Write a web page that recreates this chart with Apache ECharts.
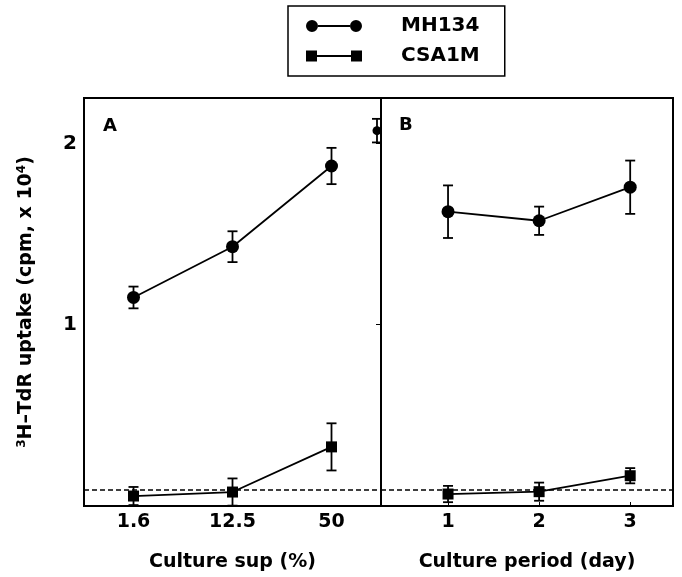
<!DOCTYPE html>
<html>
<head>
<meta charset="utf-8">
<script src="https://cdn.jsdelivr.net/npm/echarts@6/dist/echarts.min.js"></script>
<style>html,body{margin:0;padding:0;background:#fff;}#c{width:682px;height:577px;}</style>
</head>
<body>
<div id="c"></div>
<script>
const seriesNames = ['MH134', 'CSA1M'];
const supCategories = ['1.6', '12.5', '50'];
const mhSup = [1.15, 1.43, 1.875];
const mhSupErr = [0.06, 0.085, 0.1];
const csaSup = [0.055, 0.077, 0.326];
const csaSupErr = [0.05, 0.075, 0.13];
const periodDays = [1, 2, 3];
const mhPeriod = [1.623, 1.573, 1.758];
const mhPeriodErr = [0.145, 0.078, 0.147];
const csaPeriod = [0.066, 0.079, 0.167];
const csaPeriodErr = [0.045, 0.05, 0.042];
const strayPoint = [[0.22, 2.07, 0.065]];
const backgroundLevel = 0.09;
const yTicks = [1, 2];
const yTitle = '{sup|3}H\u2013TdR uptake (cpm, x 10{sup|4})';
const xTitles = ['Culture sup (%)', 'Culture period (day)'];
const panelLabels = ['A', 'B'];

const FONT = 'DejaVu Sans';
const chart = echarts.init(document.getElementById('c'));

function errRender(params, api) {
  const x = api.value(0), y = api.value(1), e = api.value(2);
  const top = api.coord([x, y + e]);
  const bot = api.coord([x, y - e]);
  const hw = 5;
  const st = {stroke: '#000', lineWidth: 1.8};
  return {type: 'group', children: [
    {type: 'line', shape: {x1: top[0], y1: top[1], x2: bot[0], y2: bot[1]}, style: st},
    {type: 'line', shape: {x1: top[0] - hw, y1: top[1], x2: top[0] + hw, y2: top[1]}, style: st},
    {type: 'line', shape: {x1: bot[0] - hw, y1: bot[1], x2: bot[0] + hw, y2: bot[1]}, style: st}
  ]};
}

const circleIcon = 'path://M0,6A6,6,0,1,1,12,6A6,6,0,1,1,0,6Z M12,5.1L44,5.1L44,6.9L12,6.9Z M44,6A6,6,0,1,1,56,6A6,6,0,1,1,44,6Z';
const squareIcon = 'path://M0,0.5L11,0.5L11,11.5L0,11.5Z M11,5.1L45,5.1L45,6.9L11,6.9Z M45,0.5L56,0.5L56,11.5L45,11.5Z';

const tickLabelStyle = {color: '#000', fontFamily: FONT, fontWeight: 'bold', fontSize: 19};
const nameStyle = {color: '#000', fontFamily: FONT, fontWeight: 'bold', fontSize: 19};

const option = {
  animation: false,
  backgroundColor: '#fff',
  title: [
    {text: panelLabels[0], left: 98, top: 112, textStyle: {fontFamily: FONT, fontWeight: 'bold', fontSize: 18, color: '#000'}},
    {text: panelLabels[1], left: 394, top: 111, textStyle: {fontFamily: FONT, fontWeight: 'bold', fontSize: 18, color: '#000'}}
  ],
  legend: {
    orient: 'vertical', left: 288, top: 6,
    padding: [10, 25, 10, 18], itemGap: 10,
    borderColor: '#000', borderWidth: 1.5,
    itemWidth: 56, itemHeight: 12,
    textStyle: {color: '#000', fontFamily: FONT, fontWeight: 'bold', fontSize: 20, padding: [0, 0, 0, 34]},
    data: [
      {name: seriesNames[0], icon: circleIcon},
      {name: seriesNames[1], icon: squareIcon}
    ]
  },
  grid: [
    {left: 84, right: 301, top: 98, bottom: 70, show: true, borderColor: '#000', borderWidth: 2},
    {left: 381, right: 9, top: 98, bottom: 70, show: true, borderColor: '#000', borderWidth: 2}
  ],
  xAxis: [
    {type: 'category', gridIndex: 0, data: supCategories,
     name: xTitles[0], nameLocation: 'middle', nameGap: 47, nameTextStyle: nameStyle,
     axisLine: {lineStyle: {color: '#000', width: 2}},
     axisTick: {inside: true, length: 4, alignWithLabel: true, lineStyle: {color: '#000'}},
     axisLabel: Object.assign({margin: 7}, tickLabelStyle)},
    {type: 'value', gridIndex: 1, min: 0.264, max: 3.47,
     name: xTitles[1], nameLocation: 'middle', nameGap: 47, nameTextStyle: nameStyle,
     splitLine: {show: false},
     axisLine: {lineStyle: {color: '#000', width: 2}},
     axisTick: {inside: true, length: 4, customValues: periodDays, lineStyle: {color: '#000'}},
     axisLabel: Object.assign({margin: 7, customValues: periodDays}, tickLabelStyle)}
  ],
  yAxis: [
    {type: 'value', gridIndex: 0, min: 0, max: 2.25,
     name: yTitle, nameLocation: 'middle', nameGap: 47, nameRotate: 90,
     nameTextStyle: Object.assign({}, nameStyle, {rich: {sup: {fontFamily: FONT, fontWeight: 'bold', fontSize: 12, color: '#000', verticalAlign: 'top', padding: [0, 0, 9, 0]}}}),
     splitLine: {show: false},
     axisLine: {lineStyle: {color: '#000', width: 2}},
     axisTick: {inside: true, length: 5, customValues: yTicks, lineStyle: {color: '#000'}},
     axisLabel: Object.assign({margin: 7, customValues: yTicks}, tickLabelStyle, {fontSize: 20})},
    {type: 'value', gridIndex: 1, min: 0, max: 2.25,
     splitLine: {show: false},
     axisLine: {lineStyle: {color: '#000', width: 2}},
     axisTick: {inside: false, length: 5, customValues: yTicks, lineStyle: {color: '#000'}},
     axisLabel: {show: false}}
  ],
  series: [
    {type: 'custom', xAxisIndex: 0, yAxisIndex: 0, z: 1, renderItem: errRender, silent: true,
     data: supCategories.map((c, i) => [i, mhSup[i], mhSupErr[i]])},
    {type: 'custom', xAxisIndex: 0, yAxisIndex: 0, z: 1, renderItem: errRender, silent: true,
     data: supCategories.map((c, i) => [i, csaSup[i], csaSupErr[i]])},
    {type: 'custom', xAxisIndex: 1, yAxisIndex: 1, z: 1, renderItem: errRender, silent: true,
     data: periodDays.map((d, i) => [d, mhPeriod[i], mhPeriodErr[i]])},
    {type: 'custom', xAxisIndex: 1, yAxisIndex: 1, z: 1, renderItem: errRender, silent: true,
     data: periodDays.map((d, i) => [d, csaPeriod[i], csaPeriodErr[i]])},
    {type: 'custom', xAxisIndex: 1, yAxisIndex: 1, z: 1, renderItem: errRender, silent: true, clip: false,
     data: strayPoint},
    {name: seriesNames[0], type: 'line', xAxisIndex: 0, yAxisIndex: 0, z: 3,
     symbol: 'circle', symbolSize: 13, color: '#000',
     lineStyle: {color: '#000', width: 1.8}, itemStyle: {color: '#000'},
     data: supCategories.map((c, i) => [i, mhSup[i]])},
    {name: seriesNames[1], type: 'line', xAxisIndex: 0, yAxisIndex: 0, z: 3,
     symbol: 'rect', symbolSize: 11, color: '#000',
     lineStyle: {color: '#000', width: 1.8}, itemStyle: {color: '#000'},
     data: supCategories.map((c, i) => [i, csaSup[i]]),
     markLine: {silent: true, symbol: 'none', label: {show: false},
       lineStyle: {color: '#000', type: [5, 3], width: 1.6},
       data: [{yAxis: backgroundLevel}]}},
    {name: seriesNames[0], type: 'line', xAxisIndex: 1, yAxisIndex: 1, z: 3,
     symbol: 'circle', symbolSize: 13, color: '#000',
     lineStyle: {color: '#000', width: 1.8}, itemStyle: {color: '#000'},
     data: periodDays.map((d, i) => [d, mhPeriod[i]])},
    {name: seriesNames[1], type: 'line', xAxisIndex: 1, yAxisIndex: 1, z: 3,
     symbol: 'rect', symbolSize: 11, color: '#000',
     lineStyle: {color: '#000', width: 1.8}, itemStyle: {color: '#000'},
     data: periodDays.map((d, i) => [d, csaPeriod[i]]),
     markLine: {silent: true, symbol: 'none', label: {show: false},
       lineStyle: {color: '#000', type: [5, 3], width: 1.6},
       data: [{yAxis: backgroundLevel}]}},
    {type: 'scatter', xAxisIndex: 1, yAxisIndex: 1, z: 3, clip: false, silent: true,
     symbol: 'circle', symbolSize: 9, itemStyle: {color: '#000', opacity: 1},
     data: strayPoint.map(p => [p[0], p[1]])}
  ]
};
chart.setOption(option);
</script>
</body>
</html>
